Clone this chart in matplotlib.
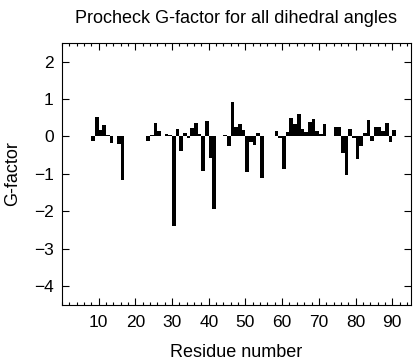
import numpy as np
import matplotlib.pyplot as plt
from matplotlib.ticker import MultipleLocator

plt.rcParams['font.family'] = ['Liberation Sans', 'DejaVu Sans']

# residue numbers and G-factor values
residues = [8, 9, 10, 11, 12, 13, 14, 15, 16,
            23, 24, 25, 26, 27, 28, 29, 30, 31, 32, 33, 34, 35, 36, 37, 38, 39, 40, 41,
            44, 45, 46, 47, 48, 49, 50, 51, 52, 53, 54,
            58, 59, 60, 61, 62, 63, 64, 65, 66, 67, 68, 69, 70, 71,
            74, 75, 76, 77, 78, 79, 80, 81, 82, 83, 84, 85, 86, 87, 88, 89, 90]
gfactor = [-0.12, 0.52, 0.18, 0.30, 0.05, -0.17, 0.0, -0.20, -1.17,
           -0.11, 0.03, 0.36, 0.15, 0.0, 0.06, 0.03, -2.40, 0.19, -0.38, 0.10, -0.03, 0.22, 0.37, 0.06, -0.92, 0.41, -0.57, -1.94,
           0.04, -0.25, 0.91, 0.24, 0.34, 0.18, -0.95, -0.16, -0.22, 0.08, -1.10,
           0.15, -0.04, -0.86, 0.11, 0.48, 0.32, 0.59, 0.19, 0.11, 0.39, 0.46, 0.15, 0.06, 0.34,
           0.25, 0.25, -0.45, -1.04, 0.19, -0.04, -0.60, -0.25, 0.10, 0.43, -0.11, 0.24, 0.25, 0.15, 0.37, -0.16, 0.17]

fig = plt.figure(figsize=(4.16, 3.6), dpi=100)
ax = fig.add_axes([0.149, 0.153, 0.838, 0.728])

ax.bar(residues, gfactor, width=1.0, align='edge', color='black', linewidth=0)

ax.set_xlim(0, 95)
ax.set_ylim(-4.5, 2.5)
ax.xaxis.set_minor_locator(MultipleLocator(2))
ax.yaxis.set_major_locator(MultipleLocator(1))
ax.set_xticks(np.arange(10, 95, 10))
ax.tick_params(which='both', direction='in', top=True, right=True, labelsize=12.5, width=0.8)
ax.tick_params(which='major', length=5)
ax.tick_params(which='minor', length=2.5)
ax.tick_params(axis='x', pad=7)
ax.tick_params(axis='y', pad=6)
for s in ax.spines.values():
    s.set_linewidth(0.8)

ax.set_title('Procheck G-factor for all dihedral angles', fontsize=13, pad=14)
ax.set_xlabel('Residue number', fontsize=13, labelpad=10)
ax.set_ylabel('G-factor', fontsize=13, labelpad=9)

fig.savefig('out.png', dpi=100)
